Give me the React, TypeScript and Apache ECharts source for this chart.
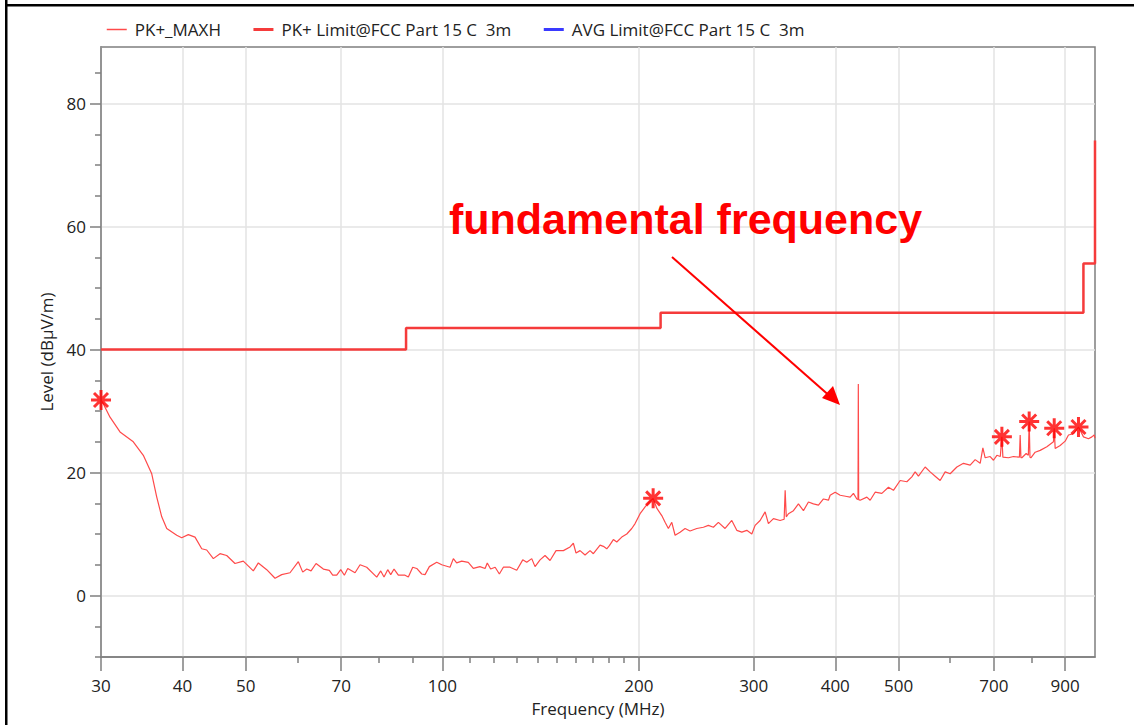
import React, { useEffect, useRef } from "react";
import * as echarts from "echarts";

// ---- data ----
const traceFreq = [
  30, 30.24, 30.97, 32.08, 33.62, 34.83, 35.88, 36.52, 37.17, 37.83, 39.19, 39.88, 40.82, 41.8, 42.8, 43.56,
  44.59, 45.65, 46.74, 48.13, 49.56, 51.34, 52.26, 53.83, 55.43, 56.75, 58.44, 60.18, 61.12, 61.99, 62.94,
  64.06, 65.73, 67.13, 67.94, 68.91, 69.89, 70.79, 71.64, 73.51, 74.82, 76.6, 79.35, 80.48, 81.42, 82.49,
  83.37, 84.35, 85.64, 87.68, 88.71, 90.1, 91.38, 93.01, 94.1, 95.54, 98.06, 99.81, 102.77, 103.98, 105.2,
  107.1, 109.6, 111.57, 114.2, 116.3, 117.2, 118.6, 120.5, 122.3, 124.04, 127.0, 130.04, 132.82, 134.7,
  137.1, 138.71, 141.18, 143.69, 146.25, 149.38, 153.28, 156.94, 158.78, 160.3, 162.58, 165.47, 168.42,
  170.39, 174.47, 176.51, 178.64, 180.29, 182.85, 185.06, 188.35, 191.71, 195.12, 197.41, 200.92, 204.5,
  206.7, 210.4, 213.11, 216.9, 219.45, 222.02, 224.7, 227.33, 231.37, 235.49, 239.69, 245.42, 251.2,
  255.67, 260.22, 264.86, 271.18, 277.67, 282.62, 287.65, 292.77, 298.0, 301.49, 306.86, 312.32, 315.98,
  321.6, 329.3, 334.0, 335.2, 336.5, 339.1, 345.13, 351.27, 357.53, 363.89, 370.37, 376.97, 383.68,
  390.51, 392.8, 399.85, 406.97, 416.69, 421.6, 426.5, 431.66, 433.4, 433.9, 434.4, 436.71, 447.16,
  452.39, 460.44, 471.45, 482.56, 491.14, 502.88, 514.91, 524.07, 530.22, 536.42, 549.25, 559.03, 568.98,
  579.12, 589.43, 599.93, 614.28, 628.74, 643.78, 655.25, 666.92, 673.3, 678.78, 690.86, 698.96, 707.39,
  716.0, 720.0, 722.54, 736.96, 750.08, 766.0, 768.0, 770.0, 772.62, 784.43, 790.5, 792.8, 795.0, 797.54,
  809.73, 824.14, 843.83, 863.72, 866.0, 868.92, 884.38, 900.12, 910.67, 926.89, 943.38, 960.18, 977.26,
  989.04, 997.11, 1000,
];
const traceLevel = [
  31.8, 31.2, 29.0, 26.6, 25.0, 22.8, 19.8, 16.0, 12.8, 10.9, 9.8, 9.4, 9.9, 9.5, 7.6, 7.4,
  6.0, 6.8, 6.5, 5.2, 5.6, 4.0, 5.3, 4.2, 2.8, 3.4, 3.7, 5.5, 3.8, 4.3, 4.0,
  5.2, 4.3, 4.1, 3.3, 3.3, 4.2, 3.3, 4.4, 3.7, 5.0, 4.6, 3.0, 4.0, 3.0, 4.2,
  3.4, 4.3, 3.3, 3.3, 3.0, 4.6, 4.4, 3.5, 3.4, 4.7, 5.4, 5.0, 4.6, 6.0, 5.3,
  5.6, 5.4, 4.4, 4.7, 4.4, 5.3, 4.3, 4.6, 3.5, 4.6, 4.6, 4.1, 5.8, 5.4,
  6.0, 4.7, 5.8, 6.5, 5.7, 7.3, 7.3, 7.9, 8.5, 6.9, 7.3, 6.6, 7.3,
  6.8, 8.2, 8.0, 7.6, 8.1, 9.1, 8.7, 9.5, 10.0, 10.9, 11.7, 13.3, 14.4,
  15.0, 15.8, 14.2, 13.0, 11.9, 10.9, 11.9, 9.8, 10.3, 10.9, 10.5, 10.9, 11.1,
  11.4, 11.1, 11.9, 10.9, 12.2, 10.6, 10.3, 10.6, 10.0, 11.4, 12.2, 13.6, 11.7,
  12.5, 12.2, 12.4, 17.1, 12.8, 13.3, 13.8, 14.9, 13.8, 15.2, 14.9, 14.7, 15.7,
  15.5, 16.3, 16.8, 16.3, 16.1, 16.0, 16.6, 15.7, 15.6, 34.4, 15.6, 15.5, 16.0,
  15.5, 16.8, 16.6, 17.6, 17.1, 18.7, 18.5, 19.3, 20.1, 19.4, 20.9, 20.1, 19.4,
  18.7, 20.1, 19.8, 20.9, 21.5, 21.2, 22.1, 21.5, 24.0, 22.4, 22.6, 22.0, 22.8,
  22.6, 25.8, 22.5, 22.4, 22.6, 22.5, 26.1, 22.4, 22.4, 23.1, 22.8, 28.3, 22.5, 22.4,
  23.3, 23.6, 24.2, 25.0, 27.2, 23.9, 24.4, 25.1, 26.1, 26.3, 27.4, 25.8, 25.5,
  25.8, 26.1, 25.6,
];

const limitFreq = [30, 88, 88, 216, 216, 960, 960, 1000, 1000];
const limitLevel = [40, 40, 43.5, 43.5, 46, 46, 54, 54, 74];

const avgFreq: number[] = [];
const avgLevel: number[] = [];

const peakFreq = [30, 210.4, 720, 792.8, 866, 943.4];
const peakLevel = [31.8, 15.8, 25.8, 28.3, 27.2, 27.4];

const xMajorTicks = [30, 40, 50, 70, 100, 200, 300, 400, 500, 700, 900];
const xMinorTicks = [60, 80, 90, 110, 120, 130, 140, 150, 160, 170, 180, 190, 600, 800];
const yMajorTicks = [0, 20, 40, 60, 80];
const yMinorTicks = [-10, -5, 5, 10, 15, 25, 30, 35, 45, 50, 55, 65, 70, 75, 85];

const seriesNames = ["PK+_MAXH", "PK+ Limit@FCC Part 15 C  3m", "AVG Limit@FCC Part 15 C  3m"];
const annotationText = "fundamental frequency";

const zip = (a: number[], b: number[]) => a.map((v, i) => [v, b[i]]);

const FONT = "Open Sans";
const FS = 17;
const AXIS_COLOR = "#7f7f7f";
const GRID_COLOR = "#e3e3e3";
const TRACE_COLOR = "#ff4a4a";
const LIMIT_COLOR = "#f53b3b";
const AVG_COLOR = "#3a3aff";

export default function App() {
  const ref = useRef<HTMLDivElement>(null);
  useEffect(() => {
    if (!ref.current) return;
    const chart = echarts.init(ref.current, undefined, { renderer: "svg" });
    const asterisk = "path://M10,0 L10,20 M0,10 L20,10 M3,3 L17,17 M3,17 L17,3";
    chart.setOption({
      animation: false,
      backgroundColor: "#ffffff",
      textStyle: { fontFamily: FONT },
      legend: {
        left: 101,
        top: 16,
        itemWidth: 20,
        itemHeight: 14,
        itemGap: 31,
        itemStyle: { opacity: 0 },
        textStyle: { fontFamily: FONT, fontSize: FS, color: "#222", padding: [0, 0, 0, 3] },
        data: [
          { name: seriesNames[0], lineStyle: { width: 1.5, color: TRACE_COLOR } },
          { name: seriesNames[1], lineStyle: { width: 3, color: LIMIT_COLOR } },
          { name: seriesNames[2], lineStyle: { width: 3, color: AVG_COLOR } },
        ],
      },
      grid: {
        left: 101,
        right: 39,
        top: 47,
        bottom: 68,
        show: true,
        borderColor: AXIS_COLOR,
        borderWidth: 1.5,
        containLabel: false,
      },
      xAxis: [
        {
          type: "log",
          logBase: 10,
          min: 30,
          max: 1000,
          name: "Frequency (MHz)",
          nameLocation: "middle",
          nameGap: 43,
          nameTextStyle: { fontFamily: FONT, fontSize: FS, color: "#222" },
          axisLine: { show: true, onZero: false, lineStyle: { color: AXIS_COLOR, width: 1.5 } },
          axisTick: { show: true, customValues: xMajorTicks, length: 14, lineStyle: { color: AXIS_COLOR, width: 1.5 } },
          axisLabel: { customValues: xMajorTicks, margin: 20, fontFamily: FONT, fontSize: FS, color: "#222" },
          splitLine: { show: true, lineStyle: { color: GRID_COLOR, width: 1.5 } },
          minorTick: { show: false },
        },
        {
          type: "log",
          logBase: 10,
          min: 30,
          max: 1000,
          position: "bottom",
          axisLine: { show: false, onZero: false },
          axisTick: { show: true, customValues: xMinorTicks, length: 6, lineStyle: { color: AXIS_COLOR, width: 1.5 } },
          axisLabel: { show: false },
          splitLine: { show: false },
        },
      ],
      yAxis: [
        {
          type: "value",
          min: -10,
          max: 89.2,
          name: "Level (dBµV/m)",
          nameLocation: "middle",
          nameGap: 46,
          nameRotate: 90,
          nameTextStyle: { fontFamily: FONT, fontSize: FS, color: "#222" },
          axisLine: { show: true, onZero: false, lineStyle: { color: AXIS_COLOR, width: 1.5 } },
          axisTick: { show: true, customValues: yMajorTicks, length: 11, lineStyle: { color: AXIS_COLOR, width: 1.5 } },
          axisLabel: { customValues: yMajorTicks, margin: 15, fontFamily: FONT, fontSize: FS, color: "#222" },
          splitLine: { show: true, lineStyle: { color: GRID_COLOR, width: 1.5 } },
        },
        {
          type: "value",
          min: -10,
          max: 89.2,
          position: "left",
          axisLine: { show: false, onZero: false },
          axisTick: { show: true, customValues: yMinorTicks, length: 6, lineStyle: { color: AXIS_COLOR, width: 1.5 } },
          axisLabel: { show: false },
          splitLine: { show: false },
        },
      ],
      series: [
        {
          name: seriesNames[0],
          type: "line",
          data: zip(traceFreq, traceLevel),
          symbol: "none",
          lineStyle: { color: TRACE_COLOR, width: 1.2 },
          itemStyle: { color: TRACE_COLOR },
          z: 3,
        },
        {
          name: seriesNames[1],
          type: "line",
          data: zip(limitFreq, limitLevel),
          symbol: "none",
          lineStyle: { color: LIMIT_COLOR, width: 2.5 },
          itemStyle: { color: LIMIT_COLOR },
          z: 4,
        },
        {
          name: seriesNames[2],
          type: "line",
          data: zip(avgFreq, avgLevel),
          symbol: "none",
          lineStyle: { color: AVG_COLOR, width: 2.5 },
          itemStyle: { color: AVG_COLOR },
          z: 4,
        },
        {
          name: "peaks",
          type: "scatter",
          data: zip(peakFreq, peakLevel),
          symbol: asterisk,
          symbolSize: 20,
          itemStyle: { color: "#ff0000", borderColor: "#ff0000", borderWidth: 3 },
          z: 5,
        },
      ],
      graphic: [
        { type: "rect", z: 100, left: 5, top: 0, shape: { width: 2.5, height: 725 }, style: { fill: "#000" } },
        { type: "rect", z: 100, left: 5, top: 4, shape: { width: 1129, height: 2.5 }, style: { fill: "#000" } },
        {
          type: "text",
          z: 100,
          left: 449,
          top: 197,
          style: {
            text: annotationText,
            fill: "#ff0000",
            font: "bold 43px 'Liberation Sans', Arial, sans-serif",
          },
        },
        {
          type: "line",
          z: 100,
          shape: { x1: 672, y1: 257, x2: 832, y2: 398 },
          style: { stroke: "#ff0000", lineWidth: 2 },
        },
        {
          type: "polygon",
          z: 100,
          shape: { points: [[840, 405], [822, 398], [833, 386]] },
          style: { fill: "#ff0000" },
        },
      ],
    });
    return () => chart.dispose();
  }, []);
  return (
    <div
      ref={ref}
      style={{ position: "fixed", left: 0, top: 0, width: 1134, height: 725, background: "#fff" }}
    />
  );
}
